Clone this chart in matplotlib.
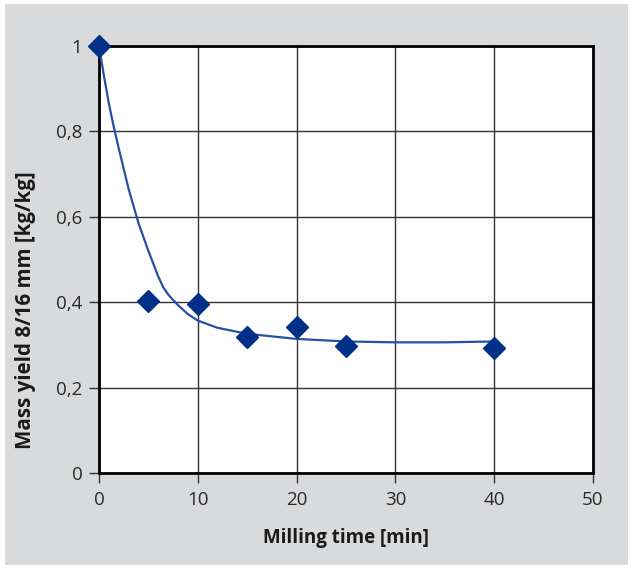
import matplotlib
matplotlib.use('Agg')
import matplotlib.pyplot as plt
from matplotlib.patches import Rectangle

# Measured points
time_min = [0, 5, 10, 15, 20, 25, 40]
yield_kgkg = [1.0, 0.403, 0.396, 0.319, 0.342, 0.297, 0.292]

# Fitted curve
fit_x = [0, 0.5, 1, 1.5, 2, 3, 4, 5, 6, 6.5, 7, 7.5, 8, 9, 10, 12, 15, 20, 25, 30, 35, 40]
fit_y = [1.0, 0.93, 0.865, 0.81, 0.76, 0.665, 0.585, 0.52, 0.46, 0.435, 0.418, 0.405,
         0.393, 0.372, 0.357, 0.340, 0.326, 0.314, 0.308, 0.306, 0.306, 0.308]

x_ticks = [0, 10, 20, 30, 40, 50]
y_ticks = [0, 0.2, 0.4, 0.6, 0.8, 1.0]
y_labels = ['0', '0,2', '0,4', '0,6', '0,8', '1']

plt.rcParams['font.family'] = ['Open Sans', 'DejaVu Sans']

W, H = 632, 569
fig = plt.figure(figsize=(W / 100, H / 100), dpi=100, facecolor='white')
fig.patches.append(Rectangle((5 / W, 4 / H), 623 / W, 561 / H, transform=fig.transFigure,
                             facecolor='#d9dadc', edgecolor='none', zorder=-10))

ax = fig.add_axes([99 / W, 1 - 473 / H, (593 - 99) / W, (473 - 46) / H])
ax.set_facecolor('white')

ax.plot(fit_x, fit_y, color='#2451a3', lw=1.6, zorder=3)
ax.plot(time_min, yield_kgkg, linestyle='none', marker='D', markersize=11,
        color='#003087', zorder=4, clip_on=False)

ax.set_xlim(0, 50)
ax.set_ylim(0, 1)
ax.set_xticks(x_ticks)
ax.set_yticks(y_ticks)
ax.set_yticklabels(y_labels)
ax.grid(True, color='#333333', lw=1.0)
ax.set_axisbelow(True)
for s in ax.spines.values():
    s.set_linewidth(2.0)
    s.set_color('black')
ax.tick_params(direction='out', length=7, width=1.0, labelsize=13.5, color='#333333',
               labelcolor='#2a2a2a')
ax.tick_params(axis='x', pad=6)
ax.tick_params(axis='y', pad=5)

ax.set_xlabel('Milling time [min]', fontsize=13.5, fontweight='bold', color='#1a1a1a')
ax.xaxis.set_label_coords(0.5, -0.128)
ax.set_ylabel('Mass yield 8/16 mm [kg/kg]', fontsize=14.8, fontweight='bold', color='#1a1a1a')
ax.yaxis.set_label_coords(-0.128, 0.382)

fig.savefig('out.png', dpi=100, facecolor='white')
